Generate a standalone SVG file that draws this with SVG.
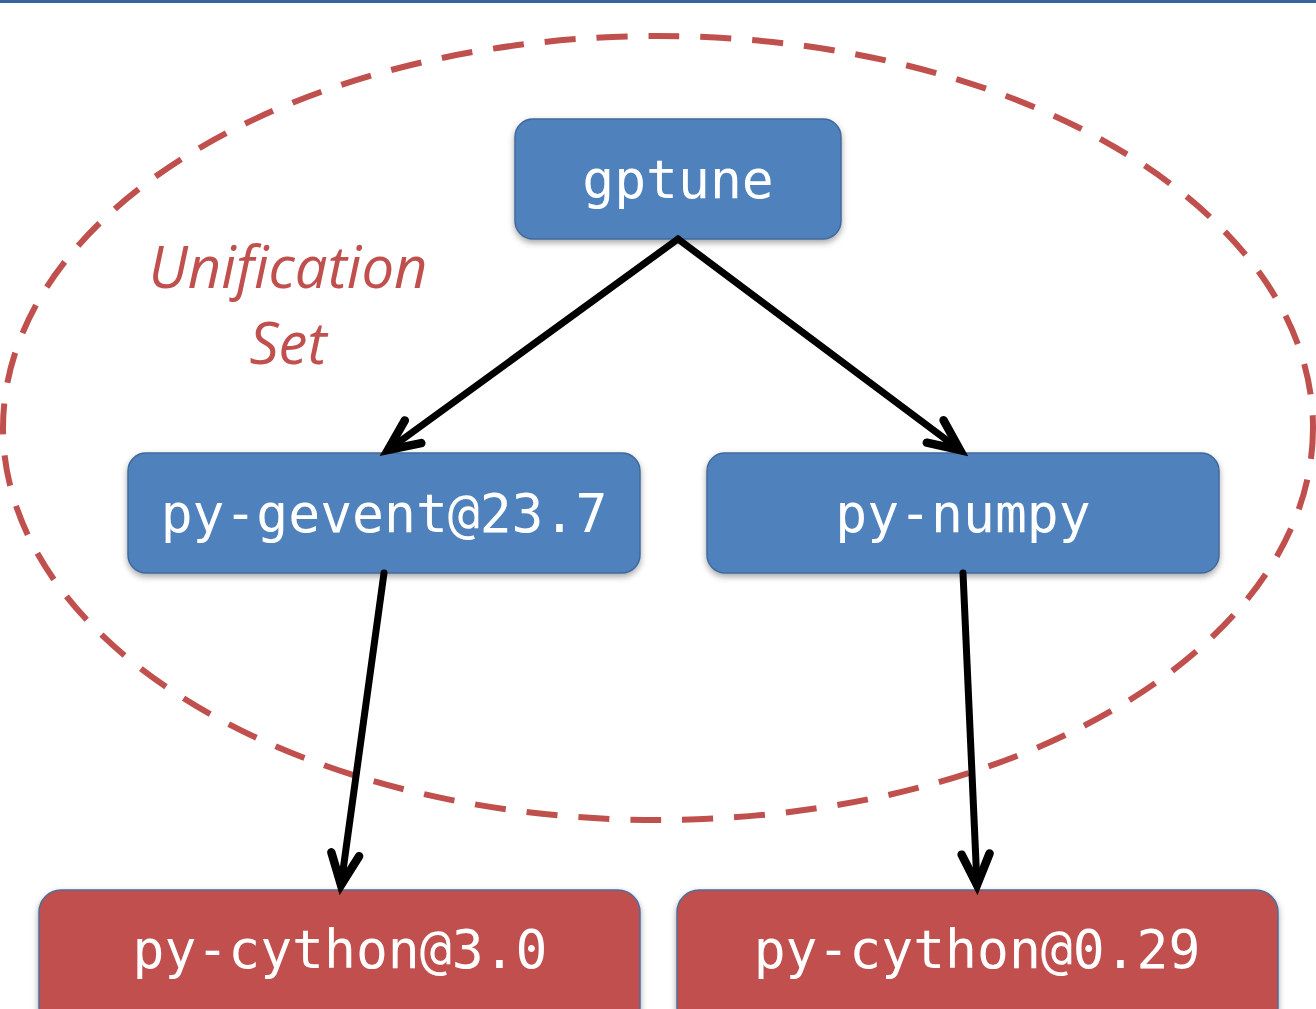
<svg xmlns="http://www.w3.org/2000/svg" width="1316" height="1009" viewBox="0 0 1316 1009">
  <style>
    .node-blue { fill: #4F81BD; stroke: #41699A; stroke-width: 1.5; }
    .node-red { fill: #C0504D; stroke: #4F6D9A; stroke-width: 1.5; }
    .label { font-family: "DejaVu Sans Mono", monospace; font-size: 53px; fill: #FFFFFF; text-anchor: middle; }
    .set-label { font-family: "Open Sans", "Noto Sans", sans-serif; font-style: italic; font-size: 58px; fill: #C0504D; text-anchor: middle; }
    .edge { stroke: #000000; stroke-width: 7; fill: none; stroke-linecap: round; }
  </style>
  <defs>
    <filter id="shadow" x="-10%" y="-20%" width="120%" height="150%">
      <feDropShadow dx="0" dy="3" stdDeviation="3" flood-color="#000000" flood-opacity="0.35"/>
    </filter>
    <marker id="arrow" markerUnits="userSpaceOnUse" viewBox="-40 -20 48 40" refX="0" refY="0" markerWidth="48" markerHeight="40" orient="auto" overflow="visible">
      <polyline points="-31,-14 0,0 -31,14" fill="none" stroke="#000000" stroke-width="8.5" stroke-linecap="round" stroke-linejoin="miter"/>
    </marker>
  </defs>

  <rect width="1316" height="1009" fill="#FFFFFF"/>
  <!-- top rule -->
  <rect x="0" y="0" width="1316" height="3" fill="#36649A"/>

  <!-- unification set boundary -->
  <g id="unification-set">
    <ellipse cx="658" cy="428" rx="655" ry="392" fill="none" stroke="#C0504D" stroke-width="6" stroke-dasharray="31 21"/>
    <text class="set-label" x="288" y="288">Unification</text>
    <text class="set-label" x="288" y="364">Set</text>
  </g>

  <g id="node-gptune">
    <rect class="node-blue" x="515" y="119" width="326" height="120" rx="18" filter="url(#shadow)"/>
    <text class="label" x="678" y="198">gptune</text>
  </g>

  <g id="node-py-gevent">
    <rect class="node-blue" x="128" y="453" width="512" height="120" rx="18" filter="url(#shadow)"/>
    <text class="label" x="384" y="532">py-gevent@23.7</text>
  </g>

  <g id="node-py-numpy">
    <rect class="node-blue" x="707" y="453" width="512" height="120" rx="18" filter="url(#shadow)"/>
    <text class="label" x="963" y="532">py-numpy</text>
  </g>

  <g id="node-py-cython-3">
    <rect class="node-red" x="39" y="890" width="601" height="140" rx="22" filter="url(#shadow)"/>
    <text class="label" x="340" y="968">py-cython@3.0</text>
  </g>

  <g id="node-py-cython-029">
    <rect class="node-red" x="677" y="890" width="601" height="140" rx="22" filter="url(#shadow)"/>
    <text class="label" x="977" y="968">py-cython@0.29</text>
  </g>

  <g id="connectors">
    <line class="edge" x1="678" y1="239" x2="388" y2="450" marker-end="url(#arrow)"/>
    <line class="edge" x1="678" y1="239" x2="960" y2="450" marker-end="url(#arrow)"/>
    <line class="edge" x1="384" y1="573" x2="341" y2="885" marker-end="url(#arrow)"/>
    <line class="edge" x1="963" y1="573" x2="977" y2="885" marker-end="url(#arrow)"/>
  </g>
</svg>
